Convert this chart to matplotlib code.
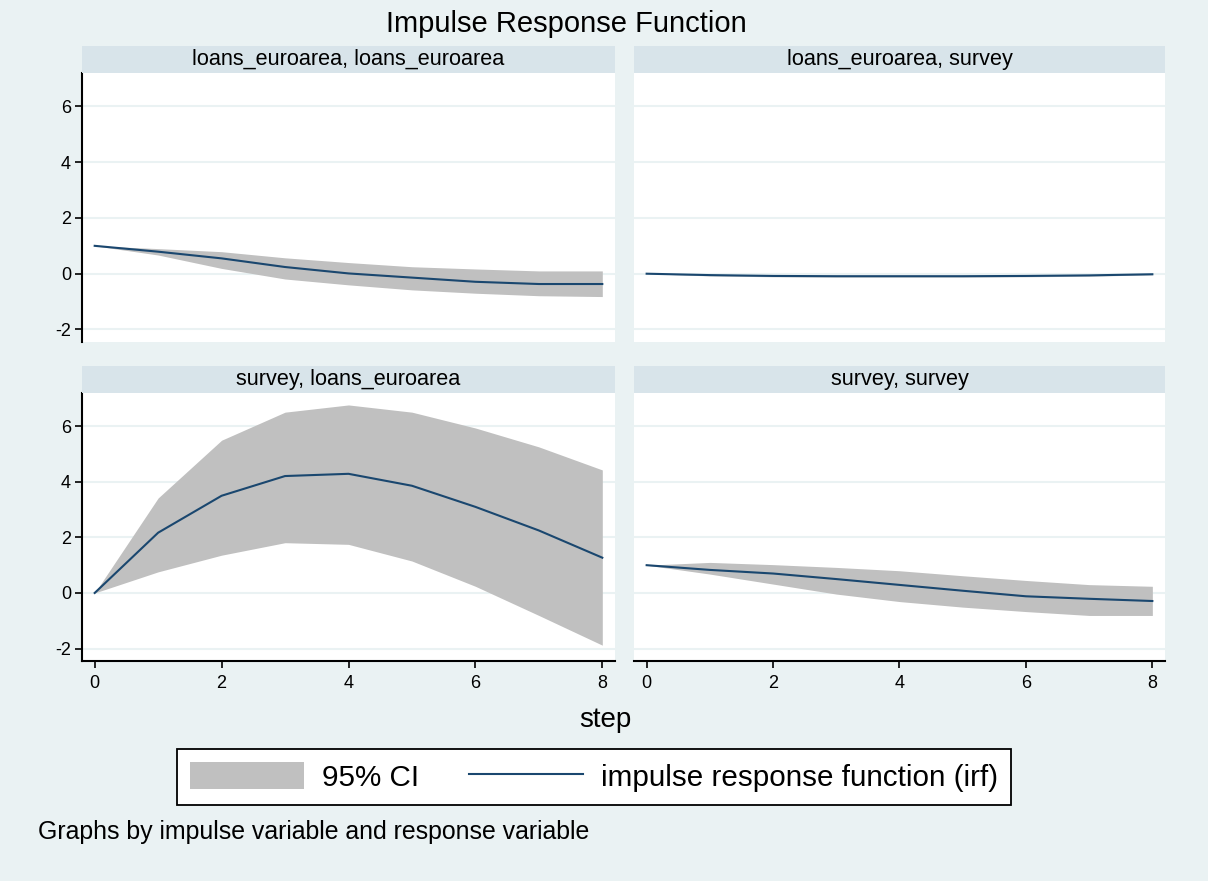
import matplotlib
matplotlib.use("Agg")
import matplotlib.pyplot as plt
from matplotlib.patches import Patch
from matplotlib.lines import Line2D

plt.rcParams["font.family"] = ["Liberation Sans", "DejaVu Sans"]
plt.rcParams["axes.unicode_minus"] = False

# steps of the impulse response
steps = [0, 1, 2, 3, 4, 5, 6, 7, 8]

# impulse loans_euroarea -> response loans_euroarea
irf_ll = [1.0, 0.79, 0.55, 0.24, 0.01, -0.14, -0.29, -0.37, -0.37]
lo_ll = [1.0, 0.67, 0.19, -0.19, -0.40, -0.58, -0.70, -0.79, -0.82]
hi_ll = [1.0, 0.90, 0.79, 0.57, 0.40, 0.25, 0.17, 0.10, 0.10]

# impulse loans_euroarea -> response survey
irf_ls = [0.0, -0.05, -0.08, -0.09, -0.09, -0.09, -0.08, -0.06, -0.02]
lo_ls = [0.0, -0.08, -0.11, -0.12, -0.12, -0.12, -0.11, -0.09, -0.04]
hi_ls = [0.0, -0.03, -0.05, -0.06, -0.06, -0.06, -0.05, -0.04, -0.01]

# impulse survey -> response loans_euroarea
irf_sl = [0.0, 2.17, 3.50, 4.21, 4.29, 3.86, 3.10, 2.25, 1.27]
lo_sl = [0.0, 0.76, 1.36, 1.81, 1.75, 1.15, 0.24, -0.81, -1.88]
hi_sl = [0.0, 3.42, 5.50, 6.51, 6.77, 6.51, 5.94, 5.26, 4.43]

# impulse survey -> response survey
irf_ss = [1.0, 0.83, 0.70, 0.50, 0.29, 0.08, -0.12, -0.21, -0.29]
lo_ss = [1.0, 0.68, 0.32, -0.04, -0.31, -0.51, -0.67, -0.81, -0.81]
hi_ss = [1.0, 1.10, 1.02, 0.92, 0.80, 0.62, 0.45, 0.30, 0.24]

titles = ["loans_euroarea, loans_euroarea", "loans_euroarea, survey",
          "survey, loans_euroarea", "survey, survey"]
yticks = [-2, 0, 2, 4, 6]
xticks = [0, 2, 4, 6, 8]

bg = "#eaf2f3"
strip_col = "#d8e4ea"
band_col = "#c0c0c0"
line_col = "#1a476f"

W, H = 1208, 881
fig = plt.figure(figsize=(W / 100, H / 100), dpi=100, facecolor=bg)


def px_axes(x0, y0, x1, y1):
    # axes placed with pixel coordinates measured from the top-left corner
    return fig.add_axes([x0 / W, 1 - y1 / H, (x1 - x0) / W, (y1 - y0) / H])


boxes = [(82, 73, 615, 342), (634, 73, 1165, 342),
         (82, 393, 615, 661), (634, 393, 1165, 661)]
data = [(irf_ll, lo_ll, hi_ll), (irf_ls, lo_ls, hi_ls),
        (irf_sl, lo_sl, hi_sl), (irf_ss, lo_ss, hi_ss)]

for i, ((x0, y0, x1, y1), (irf, lo, hi), title) in enumerate(zip(boxes, data, titles)):
    ax = px_axes(x0, y0, x1, y1)
    ax.set_facecolor("white")
    ax.fill_between(steps, lo, hi, color=band_col, lw=0)
    ax.plot(steps, irf, color=line_col, lw=1.5)
    ax.set_xlim(-0.2, 8.2)
    ax.set_ylim(-2.45, 7.2)
    ax.set_yticks(yticks)
    ax.set_xticks(xticks)
    ax.grid(axis="y", color=bg, lw=1.5)
    ax.set_axisbelow(True)
    for s in ax.spines.values():
        s.set_visible(False)
    left = i % 2 == 0
    bottom = i >= 2
    if left:
        ax.spines["left"].set_visible(True)
        ax.spines["left"].set_linewidth(1.5)
        ax.tick_params(axis="y", labelsize=13, length=5, width=1.2, pad=3)
    else:
        ax.tick_params(axis="y", left=False, labelleft=False)
    if bottom:
        ax.spines["bottom"].set_visible(True)
        ax.spines["bottom"].set_linewidth(1.5)
        ax.tick_params(axis="x", labelsize=13, length=5, width=1.2, pad=5)
    else:
        ax.tick_params(axis="x", bottom=False, labelbottom=False)

    # panel title strip
    sax = px_axes(x0, y0 - 27, x1, y0)
    sax.set_facecolor(strip_col)
    sax.set_xticks([])
    sax.set_yticks([])
    for s in sax.spines.values():
        s.set_visible(False)
    sax.text(0.5, 0.5, title, ha="center", va="center", fontsize=15.6,
             transform=sax.transAxes)

fig.text(566 / W, 1 - 24 / H, "Impulse Response Function", ha="center",
         va="center", fontsize=21)
fig.text(605 / W, 1 - 720 / H, "step", ha="center", va="center", fontsize=20)

handles = [Patch(facecolor=band_col, edgecolor="none"),
           Line2D([], [], color=line_col, lw=1.5)]
leg = fig.legend(handles, ["95% CI", "impulse response function (irf)"],
                 loc="center", bbox_to_anchor=(594 / W, 1 - 777 / H), ncol=2,
                 fontsize=21.3, frameon=True, fancybox=False, edgecolor="black",
                 facecolor="white", framealpha=1,
                 handlelength=3.85, handleheight=1.0, handletextpad=0.6,
                 columnspacing=1.7, borderpad=0.45, borderaxespad=0)
leg.get_frame().set_linewidth(1.3)

fig.text(38 / W, 1 - 832 / H, "Graphs by impulse variable and response variable",
         ha="left", va="center", fontsize=17.9)

fig.savefig("out.png", dpi=100, facecolor=bg)
